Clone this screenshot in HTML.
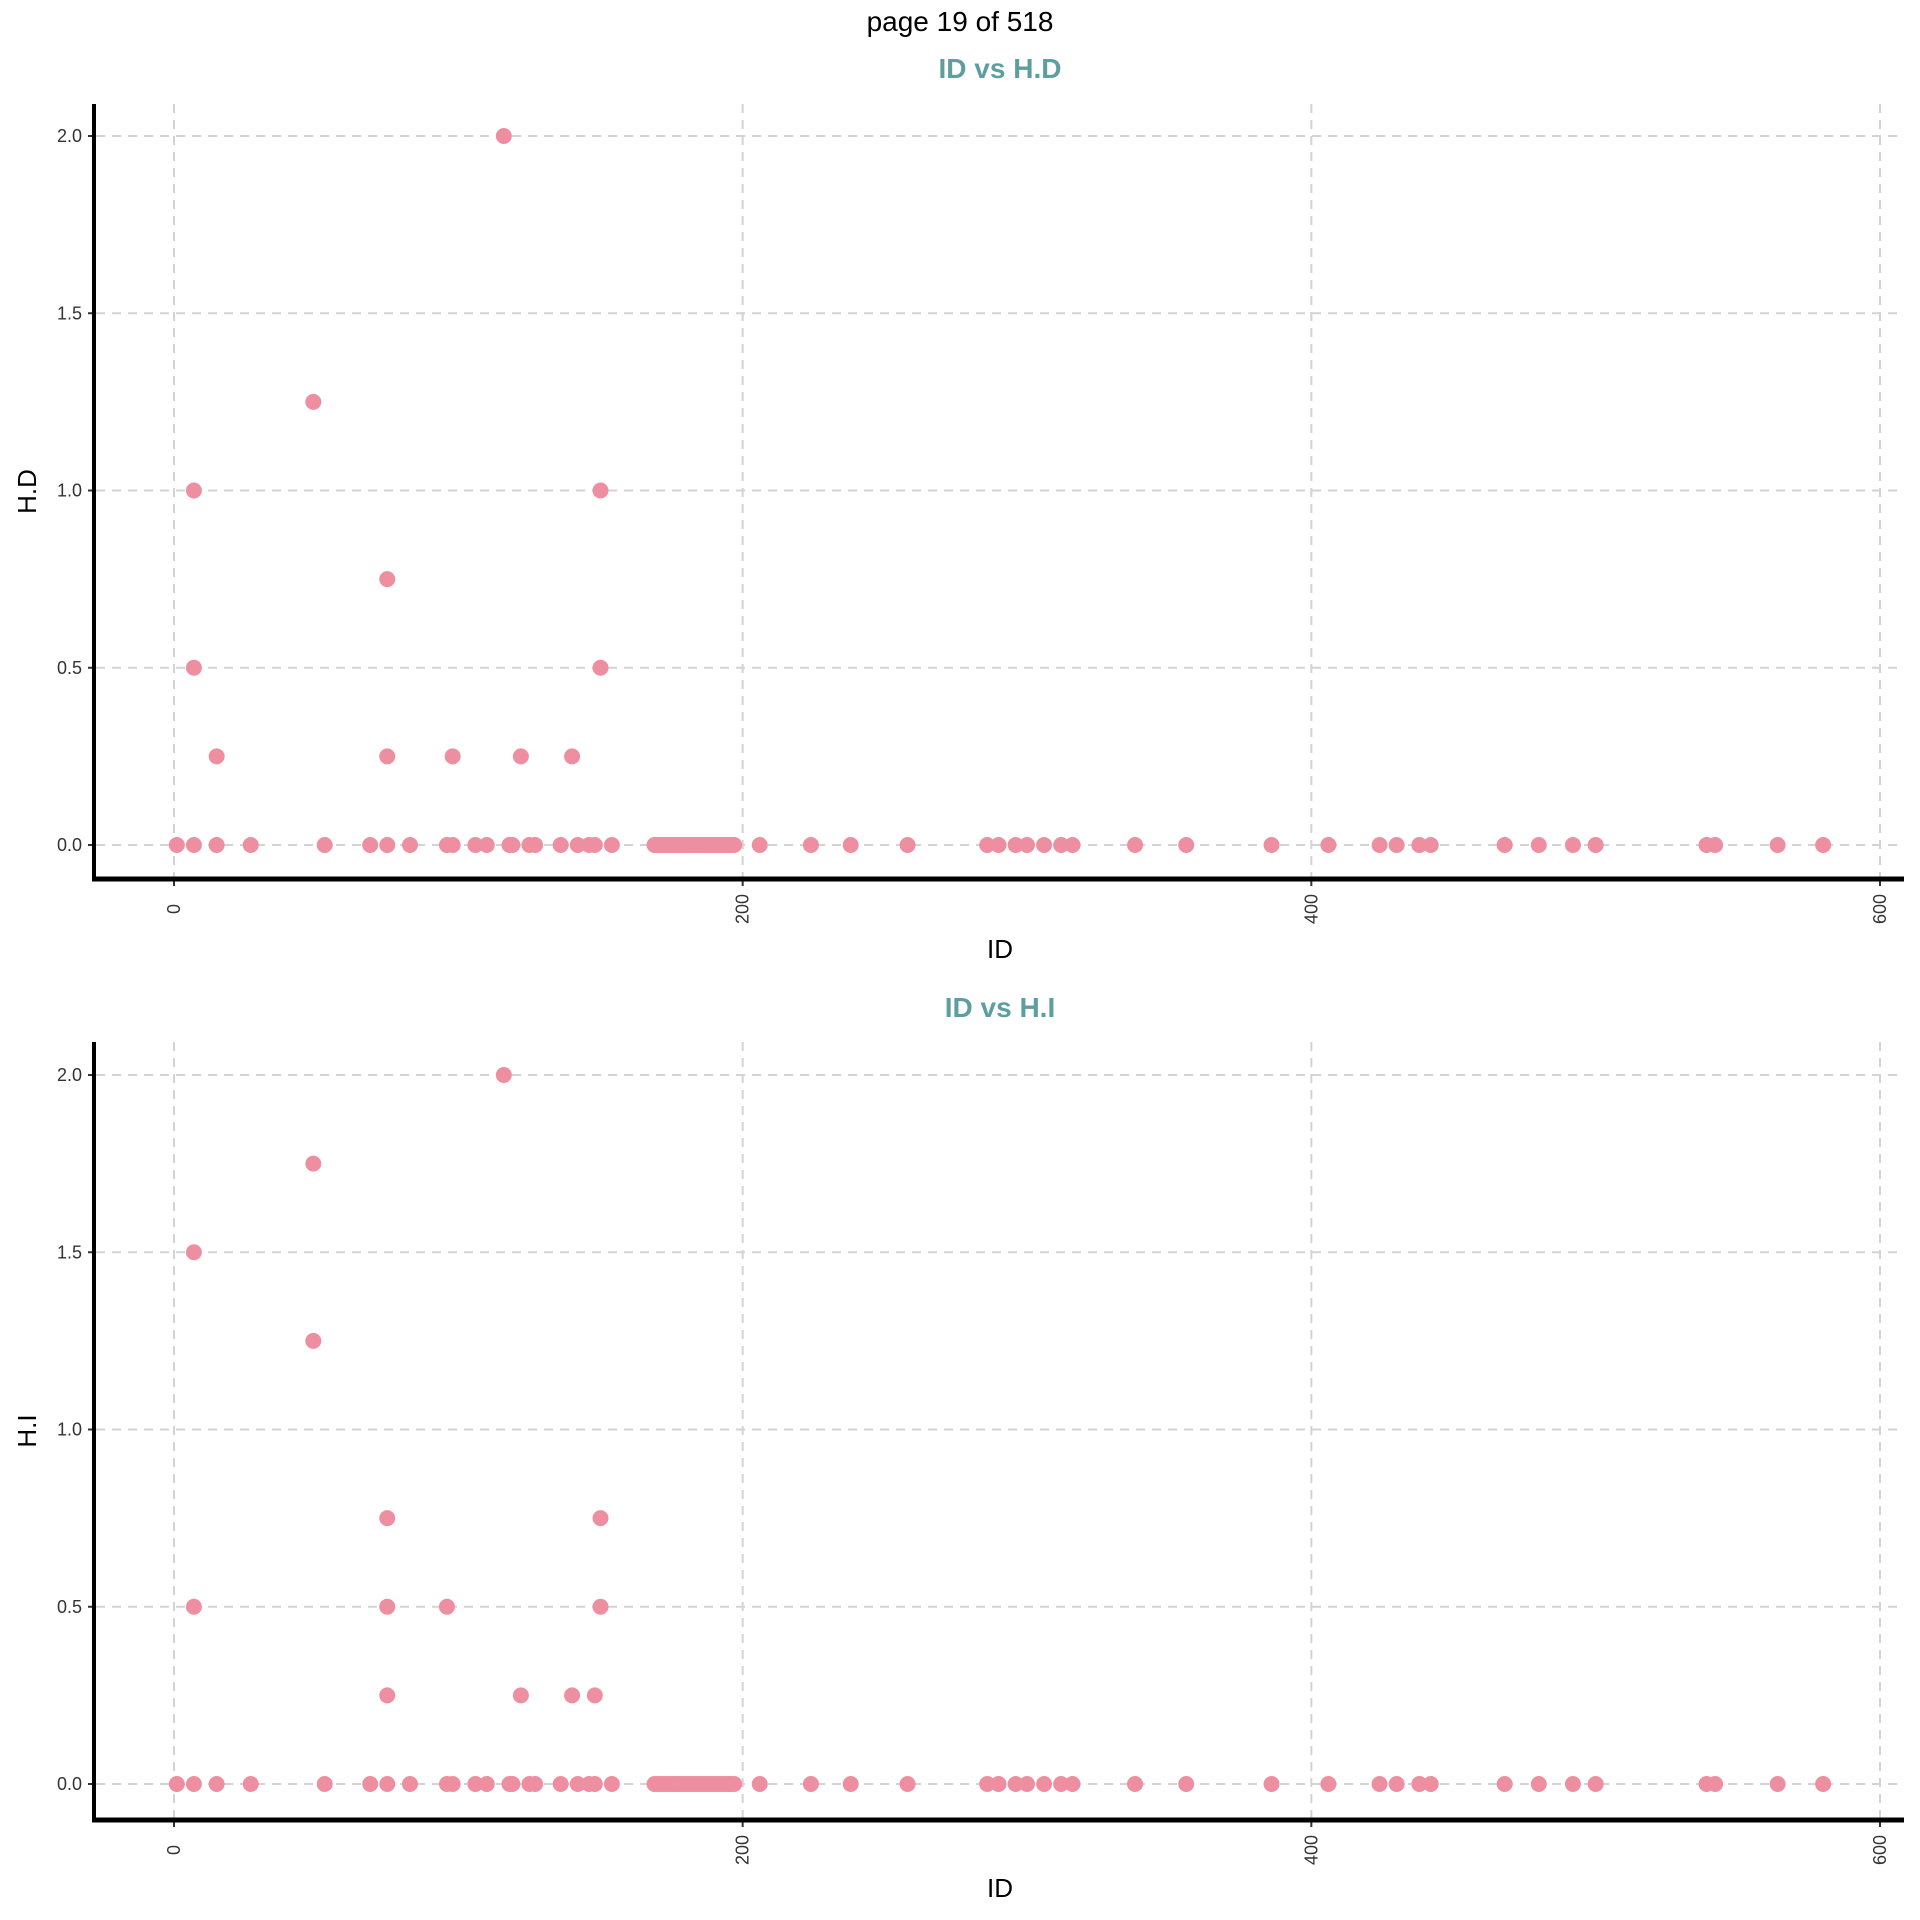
<!DOCTYPE html>
<html><head><meta charset="utf-8"><style>
html,body{margin:0;padding:0;background:#fff;}
svg{display:block;font-family:"Liberation Sans",sans-serif;}
</style></head><body>
<svg id="chart" width="1920" height="1920" viewBox="0 0 1920 1920">
<text x="960" y="31" text-anchor="middle" font-size="28" fill="#000">page 19 of 518</text>
</svg>
<script>
const zeroIds = [1,7,15,27,53,69,75,83,96,98,106,110,118,119,125,127,136,142,146,148,154,
169,170,171,172,173,174,175,176,177,178,179,180,181,182,183,184,185,186,187,188,189,190,191,192,193,194,195,196,197,
206,224,238,258,286,290,296,300,306,312,316,338,356,386,406,424,430,438,442,468,480,492,500,539,542,564,580];
const hdIds = [116,49,7,150,75,7,150,15,75,98,122,140];
const hdVals = [2.0,1.25,1.0,1.0,0.75,0.5,0.5,0.25,0.25,0.25,0.25,0.25];
const hiIds = [116,49,7,49,75,150,7,75,96,150,75,122,140,148];
const hiVals = [2.0,1.75,1.5,1.25,0.75,0.75,0.5,0.5,0.5,0.5,0.25,0.25,0.25,0.25];
const xTicks = [0,200,400,600];
const yTicks = [0,0.5,1.0,1.5,2.0];
const yTickLabels = ["0.0","0.5","1.0","1.5","2.0"];

const NS = "http://www.w3.org/2000/svg";
const svg = document.getElementById('chart');
function mk(tag, attrs, parent){
  const e = document.createElementNS(NS, tag);
  for (const k in attrs) e.setAttribute(k, attrs[k]);
  (parent||svg).appendChild(e);
  return e;
}
const xs = v => 174 + v * (1880-174)/600;

function panel(title, ytitle, y0, y2, axTop, axBot, titleY, xtitleY, ids, vals, key){
  const ys = v => y0 + v * (y2 - y0)/2;
  const g = mk('g', {});
  
  
  xTicks.forEach(t => {
    const l = mk('line', {x1:xs(t), x2:xs(t), y1:axTop, y2:axBot, stroke:'#d3d3d3', 'stroke-width':2, 'stroke-dasharray':'9,7'}, g);
    
    
  });
  yTicks.forEach((t,i) => {
    const l = mk('line', {x1:96, x2:1904, y1:ys(t), y2:ys(t), stroke:'#d3d3d3', 'stroke-width':2, 'stroke-dasharray':'9,7'}, g);
    
    
    const tk = mk('line', {x1:88, x2:94, y1:ys(t), y2:ys(t), stroke:'#333', 'stroke-width':2}, g);
    
    
    const tx = mk('text', {x:82, y:ys(t)+6, 'text-anchor':'end', 'font-size':18, fill:'#333'}, g);
    tx.textContent = yTickLabels[i];
    
    
  });
  xTicks.forEach(t => {
    const tk = mk('line', {x1:xs(t), x2:xs(t), y1:axBot, y2:axBot+7, stroke:'#333', 'stroke-width':2}, g);
    
    
    const tx = mk('text', {x:0, y:0, 'text-anchor':'middle', 'font-size':18, fill:'#333',
      transform:'translate(' + (xs(t)+6) + ',' + (axBot+30) + ') rotate(-90)'}, g);
    tx.textContent = String(t);
    
    
  });
  const all = zeroIds.map(i => [i,0]).concat(ids.map((i,k) => [i, vals[k]]));
  all.forEach(p => {
    const c = mk('circle', {cx:xs(p[0]), cy:ys(p[1]), r:8, fill:'#ee8fa1'}, g);
    
    
  });
  const ax = mk('line', {x1:94, x2:94, y1:axTop, y2:axBot+2, stroke:'#000', 'stroke-width':4}, g);
  
  
  const ax2 = mk('line', {x1:92, x2:1904, y1:axBot, y2:axBot, stroke:'#000', 'stroke-width':5}, g);
  
  
  const tt = mk('text', {x:1000, y:titleY, 'text-anchor':'middle', 'font-size':28, 'font-weight':'bold', fill:'#5f9ea0'}, g);
  tt.textContent = title;
  
  
  const xt = mk('text', {x:1000, y:xtitleY, 'text-anchor':'middle', 'font-size':26, fill:'#000'}, g);
  xt.textContent = 'ID';
  
  
  const yt = mk('text', {x:0, y:0, 'text-anchor':'middle', 'font-size':26, fill:'#000',
    transform:'translate(36,' + ((axTop+axBot)/2) + ') rotate(-90)'}, g);
  yt.textContent = ytitle;
  
  
}
panel('ID vs H.D', 'H.D', 845, 136, 104, 879, 78, 958, hdIds, hdVals, 'hd');
panel('ID vs H.I', 'H.I', 1784, 1075, 1042, 1820, 1017, 1897, hiIds, hiVals, 'hi');
</script>
</body></html>
